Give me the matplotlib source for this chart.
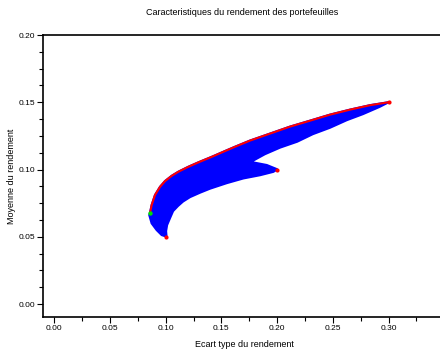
import matplotlib.pyplot as plt
from matplotlib.ticker import MultipleLocator

plt.rcParams["font.family"] = ["Liberation Sans", "DejaVu Sans"]

# individual assets (std dev, mean)
asset_sigma = [0.100, 0.200, 0.300]
asset_mu = [0.050, 0.100, 0.150]

# minimum variance portfolio
minvar_sigma = [0.086]
minvar_mu = [0.068]

# efficient frontier
frontier_sigma = [0.086, 0.0874, 0.0904, 0.0949, 0.0994, 0.1054, 0.1113, 0.1203,
                  0.1293, 0.1413, 0.1532, 0.1622, 0.1757, 0.1937, 0.2117, 0.2296,
                  0.2476, 0.2655, 0.2834, 0.300]
frontier_mu = [0.068, 0.0736, 0.081, 0.0871, 0.0914, 0.0953, 0.0983, 0.102,
               0.1053, 0.1094, 0.1137, 0.1169, 0.1215, 0.1267, 0.1319, 0.1363,
               0.1408, 0.1445, 0.1478, 0.150]

# outline of the cloud of simulated portfolios (below the frontier),
# going from asset 3 back round to the min variance point
cloud_sigma = [0.300, 0.292, 0.277, 0.2625, 0.2475, 0.232, 0.218, 0.2026, 0.189,
               0.1784, 0.1757, 0.1907, 0.2002, 0.1966, 0.1847, 0.1697, 0.1548,
               0.1398, 0.1308, 0.1218, 0.1155, 0.111, 0.1066, 0.1039, 0.1012,
               0.1003, 0.1007, 0.0964, 0.0919, 0.0874, 0.0853]
cloud_mu = [0.150, 0.1466, 0.1412, 0.1367, 0.1311, 0.1263, 0.1207, 0.1163, 0.1114,
            0.1066, 0.1057, 0.1033, 0.1001, 0.0983, 0.0958, 0.0934, 0.0899,
            0.0858, 0.0828, 0.0795, 0.0762, 0.0729, 0.0691, 0.0640, 0.0587,
            0.0542, 0.0501, 0.0513, 0.0550, 0.0600, 0.0661]

xticks = [0.00, 0.05, 0.10, 0.15, 0.20, 0.25, 0.30]

fig = plt.figure(figsize=(4.4, 3.5), dpi=100)
ax = fig.add_axes([43.3 / 440, 33 / 350, (445 - 43.3) / 440, 282 / 350])

# cloud = frontier on top + lower outline
poly_x = frontier_sigma + cloud_sigma
poly_y = frontier_mu + cloud_mu
ax.fill(poly_x, poly_y, color="#0000ff", edgecolor="#0000ff", linewidth=1.6, zorder=2)

ax.plot(frontier_sigma, frontier_mu, color="#ff0000", linewidth=1.5, zorder=3)
ax.scatter(asset_sigma, asset_mu, color="#ff0000", s=9, zorder=4, linewidths=0)
ax.scatter(minvar_sigma, minvar_mu, color="#00e000", s=10, zorder=5, linewidths=0)

ax.set_xlim(-0.00987, 0.3507)
ax.set_ylim(-0.00966, 0.20)
ax.set_xticks(xticks)
ax.set_xticks([0.025, 0.075, 0.125, 0.175, 0.225, 0.275, 0.325], minor=True)
ax.yaxis.set_major_locator(MultipleLocator(0.05))
ax.yaxis.set_minor_locator(MultipleLocator(0.0125))
ax.xaxis.set_major_formatter(plt.FormatStrFormatter("%.2f"))
ax.yaxis.set_major_formatter(plt.FormatStrFormatter("%.2f"))

ax.tick_params(which="both", direction="out", width=0.8, labelsize=6, pad=2)
ax.tick_params(which="major", length=4)
ax.tick_params(which="minor", length=3)
ax.tick_params(top=False, right=False)
for side in ["left", "bottom", "top", "right"]:
    ax.spines[side].set_linewidth(1.2)

ax.set_xlabel("Ecart type du rendement", fontsize=6.5, labelpad=5.5)
ax.set_ylabel("Moyenne du rendement", fontsize=6.5, labelpad=2)
fig.text(0.55, 0.963, "Caracteristiques du rendement des portefeuilles",
         fontsize=6.5, ha="center", va="center")

fig.savefig("out.png", dpi=100)
